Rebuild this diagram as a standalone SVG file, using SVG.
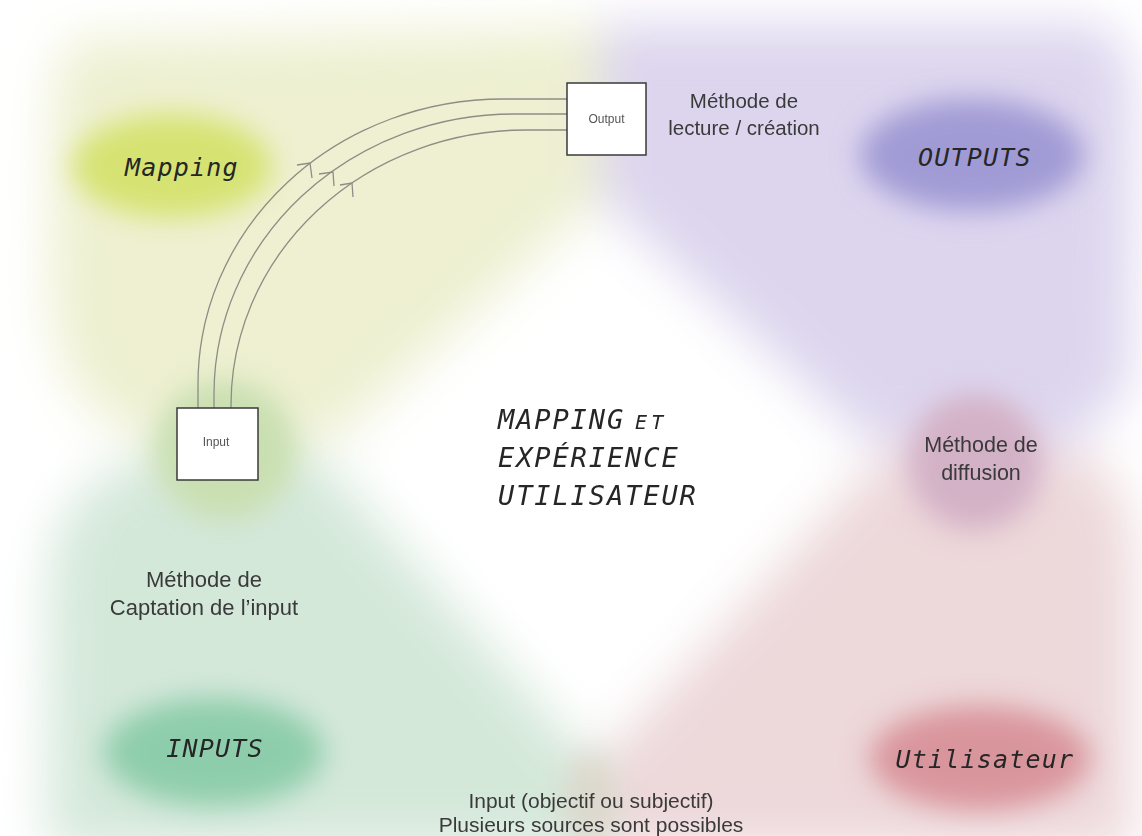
<svg xmlns="http://www.w3.org/2000/svg" width="1142" height="836" viewBox="0 0 1142 836">
  <defs>
    <filter id="blurBig" filterUnits="userSpaceOnUse" x="-100" y="-100" width="1342" height="1036">
      <feGaussianBlur stdDeviation="25"/>
    </filter>
    <filter id="blurMid" filterUnits="userSpaceOnUse" x="-100" y="-100" width="1342" height="1036">
      <feGaussianBlur stdDeviation="14"/>
    </filter>
    <style>
      .mono { font-family: "DejaVu Sans Mono", "Liberation Mono", monospace; font-style: italic; fill: #262626; }
      .big { font-size: 25px; letter-spacing: 1.2px; }
      .center { font-size: 27px; letter-spacing: 1.9px; }
      .sans { font-family: "Liberation Sans", Arial, sans-serif; fill: #3a3a3a; text-anchor: middle; }
      .box { fill: #ffffff; stroke: #3a3a3a; stroke-width: 1.5; }
      .boxlabel { font-family: "Liberation Sans", Arial, sans-serif; font-size: 12px; fill: #555; text-anchor: middle; }
      .wire { fill: none; stroke: #8d8d85; stroke-width: 1.3; }
    </style>
  </defs>

  <rect x="0" y="0" width="1142" height="836" fill="#ffffff"/>

  <!-- soft background quadrants -->
  <g id="background" filter="url(#blurBig)">
    <path d="M 80,38 L 600,28 L 600,440 L 150,440 Q 60,420 50,300 L 52,110 Q 55,45 80,38 Z" fill="#eef0d1"/>
    <path d="M 600,24 L 1095,24 Q 1134,36 1133,120 L 1130,380 Q 1122,440 1090,445 L 600,445 Z" fill="#ddd5ee"/>
    <path d="M 160,455 L 600,455 L 600,850 L 48,850 L 50,570 Q 62,470 160,455 Z" fill="#d4e8da"/>
    <path d="M 600,455 L 1085,455 Q 1130,470 1133,570 L 1133,850 L 600,850 Z" fill="#edd8da"/>
    <polygon points="600,200 880,455 595,765 320,455" fill="#ffffff"/>
    <ellipse cx="30" cy="450" rx="85" ry="40" fill="#ffffff"/>
    <ellipse cx="1150" cy="440" rx="60" ry="45" fill="#ffffff"/>
  </g>

  <!-- blobs -->
  <g id="blobs" filter="url(#blurMid)">
    <ellipse cx="225" cy="450" rx="72" ry="70" fill="#c9dfb1"/>
    <ellipse cx="975" cy="462" rx="68" ry="68" fill="#d3b1c6"/>
    <ellipse cx="590" cy="800" rx="28" ry="50" fill="#dcd4c8" opacity="0.7"/>
  </g>

  <g id="node-mapping">
    <ellipse cx="172" cy="166" rx="100" ry="52" fill="#d6e372" filter="url(#blurMid)"/>
    <text class="mono big" x="125" y="176">Mapping</text>
  </g>

  <g id="node-outputs">
    <ellipse cx="972" cy="155" rx="112" ry="56" fill="#a19bd5" filter="url(#blurMid)"/>
    <text class="mono big" x="975" y="166" text-anchor="middle">OUTPUTS</text>
  </g>

  <g id="node-inputs">
    <ellipse cx="214" cy="752" rx="110" ry="54" fill="#8ecdab" filter="url(#blurMid)"/>
    <text class="mono big" x="215" y="757" text-anchor="middle">INPUTS</text>
  </g>

  <g id="node-utilisateur">
    <ellipse cx="980" cy="758" rx="110" ry="52" fill="#d9959c" filter="url(#blurMid)"/>
    <text class="mono big" x="985" y="768" text-anchor="middle">Utilisateur</text>
  </g>

  <!-- connectors -->
  <g id="connectors" class="wire">
    <path d="M 198,408 V 384 A 305,285 0 0 1 503,99 H 567"/>
    <path d="M 214,408 V 394 A 300,280 0 0 1 514,114 H 567"/>
    <path d="M 231,408 V 405 A 295,275 0 0 1 526,130 H 567"/>
    <polyline points="297,165 310,163 312,178"/>
    <polyline points="319,174 333,172 334,186"/>
    <polyline points="340,185 352,183 353,197"/>
  </g>

  <g id="node-output-box">
    <rect class="box" x="567" y="83" width="79" height="72"/>
    <text class="boxlabel" x="606.5" y="123">Output</text>
  </g>

  <g id="node-input-box">
    <rect class="box" x="177" y="408" width="81" height="72"/>
    <text class="boxlabel" x="216" y="446">Input</text>
  </g>

  <g id="label-lecture">
    <text class="sans" font-size="20.5" x="744" y="108">Méthode de</text>
    <text class="sans" font-size="20.5" x="744" y="135">lecture / création</text>
  </g>

  <g id="label-captation">
    <text class="sans" font-size="22" x="204" y="587">Méthode de</text>
    <text class="sans" font-size="22" x="204" y="615">Captation de l’input</text>
  </g>

  <g id="label-diffusion">
    <text class="sans" font-size="21.5" x="981" y="452">Méthode de</text>
    <text class="sans" font-size="21.5" x="981" y="480">diffusion</text>
  </g>

  <g id="label-source">
    <text class="sans" font-size="21" x="591" y="808">Input (objectif ou subjectif)</text>
    <text class="sans" font-size="21" x="591" y="832">Plusieurs sources sont possibles</text>
  </g>

  <g id="label-center">
    <text class="mono center" x="498" y="429">MAPPING<tspan font-size="20" letter-spacing="4" dx="10">ET</tspan></text>
    <text class="mono center" x="498" y="467">EXPÉRIENCE</text>
    <text class="mono center" x="498" y="505">UTILISATEUR</text>
  </g>
</svg>
